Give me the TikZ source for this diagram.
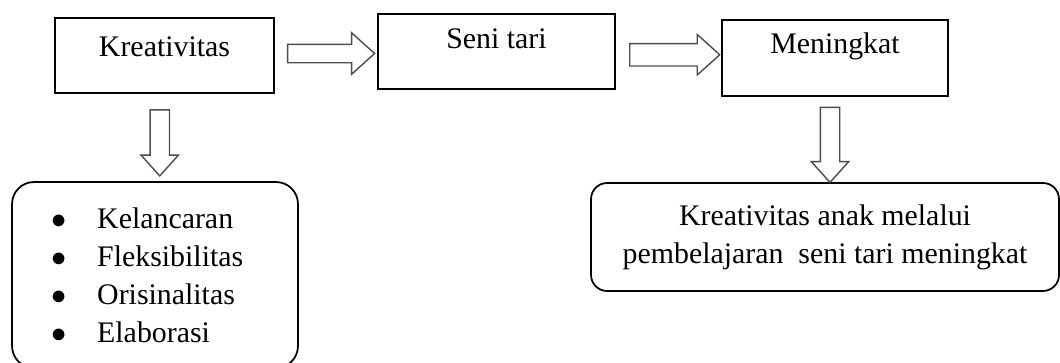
\documentclass[tikz,border=0pt]{standalone}
\usepackage{fontspec}
\setmainfont{Liberation Serif}
\usetikzlibrary{positioning,shapes.arrows,calc}

\newcommand\titik{$\bullet$\hspace{0.62cm}}

\begin{document}
\begin{tikzpicture}[x=0.02cm, y=-0.02cm,
  font=\fontsize{17pt}{21.6pt}\selectfont,
  kotak/.style={draw, line width=1pt, inner sep=0pt, align=center},
  bulat/.style={draw, line width=1pt, inner sep=0pt},
  panah/.style={single arrow, draw=black!70, line width=0.8pt, inner xsep=0pt,
    single arrow tip angle=84}]
\useasboundingbox (0,0) rectangle (1060,362);

% kotak atas
\node[kotak, minimum width=4.38cm, text height=0.76cm, text depth=0.74cm] (kre) at (164.5,55.5) {Kreativitas};
\node[kotak, minimum width=4.74cm, text height=0.68cm, text depth=0.82cm] (seni) at (496.5,51.5) {Seni tari};
\node[kotak, minimum width=4.52cm, text height=0.66cm, text depth=0.86cm] (men) at (835,58) {Meningkat};

% kotak bawah
\node[bulat, rounded corners=0.44cm, minimum width=5.72cm, minimum height=3.72cm,
  text width=4.16cm, inner xsep=0.78cm, align=left] (daftar) at (155,275)
  {\titik Kelancaran\\
   \titik Fleksibilitas\\
   \titik Orisinalitas\\
   \titik Elaborasi};
\node[bulat, rounded corners=0.32cm, minimum width=9.36cm, minimum height=2.16cm, align=center] (hasil) at (825,237)
  {Kreativitas anak melalui\\pembelajaran~ seni tari meningkat};

% panah
\node[panah, minimum height=1.74cm, inner ysep=0.17cm, single arrow head extend=0.23cm] (p1) at ($(kre.east)!0.5!(seni.west)$) {};
\node[panah, minimum height=1.8cm, inner ysep=0.21cm, single arrow head extend=0.18cm] (p2) at ($(seni.east)!0.5!(men.west)$) {};
\node[panah, rotate=-90, minimum height=1.32cm, inner ysep=0.18cm, single arrow head extend=0.18cm] (p3) at ($(kre.south)!0.5!(daftar.north)$) {};
\node[panah, rotate=-90, minimum height=1.5cm, inner ysep=0.18cm, single arrow head extend=0.18cm] (p4) at ($(men.south)!0.5!(hasil.north)$) {};

\end{tikzpicture}
\end{document}
